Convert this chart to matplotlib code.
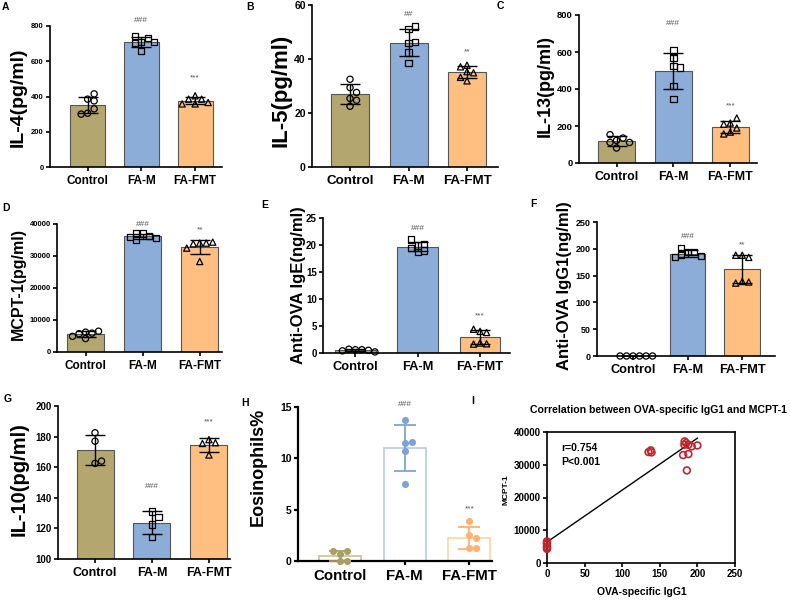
import numpy as np
import matplotlib
matplotlib.use("Agg")
import matplotlib.pyplot as plt

plt.rcParams['font.family'] = ['Liberation Sans', 'DejaVu Sans']

W, H = 790, 601

groups = ['Control', 'FA-M', 'FA-FMT']

# values (one list per group)
il4 = [[305, 385, 415, 330, 375, 300],
       [711, 730, 660, 743, 702, 711],
       [358, 385, 385, 404, 366, 358]]
il5 = [[25.4, 27.6, 22.5, 32.5, 29.4, 24.7],
       [46.0, 51.0, 46.4, 38.6, 52.0, 42.4],
       [35.3, 34.9, 37.1, 37.7, 33.2, 31.9]]
il13 = [[122, 135, 111, 153, 111, 81],
        [525, 608, 567, 417, 345, 516],
        [216, 243, 210, 189, 167, 157]]
mcpt1 = [[6200, 5900, 5700, 6500, 4900, 4200],
         [37000, 36300, 37200, 35700, 35900, 35100],
         [34030, 34030, 33820, 34340, 32460, 28270]]
ige = [[0.6, 0.6, 0.7, 0.5, 0.4, 0.2],
       [19.9, 20.2, 21.0, 19.4, 19.0, 18.7],
       [4.0, 3.8, 4.4, 1.85, 1.7, 1.65]]
igg1 = [[0, 0, 0, 0, 0, 0],
        [194, 194, 201, 188, 186, 184],
        [188, 184, 188, 139, 138, 136]]
il10 = [[182.5, 177, 162.5, 164],
        [131, 127.6, 122.6, 114.2],
        [178, 176, 175.5, 168]]
eos = [[0.72, 0.95, 0.95, 0.0, 0.0],
       [13.7, 11.5, 11.6, 10.75, 7.5],
       [3.9, 2.55, 2.25, 1.3, 1.3]]

# correlation panel
corr_igg1 = [0, 0, 0, 0, 0, 0,
             135, 138, 139, 183, 185, 182.7, 188, 192.4, 200, 181, 188, 186]
corr_mcpt1 = [6600, 6200, 5800, 5100, 4700, 4300,
              33870, 34380, 33770, 37130, 36620, 36110, 36110, 35600, 35900,
              32960, 33260, 28270]
fit_intercept = 6400
fit_slope = 158.6
r_value = 0.754

bar_colors = ['#b3a66e', '#8badd8', '#ffbf80']
markers = ['o', 's', '^']
# panel H style
h_edge = ['#cfc597', '#bcd0ea', '#ffd7ae']
h_pts = ['#ab9e62', '#7fa2d4', '#ffb271']

fig = plt.figure(figsize=(W / 100, H / 100), dpi=100)


def px_axes(x0, y0, x1, y1):
    return fig.add_axes([x0 / W, 1 - y1 / H, (x1 - x0) / W, (y1 - y0) / H])


def ftext(x, y, s, **kw):
    fig.text(x / W, 1 - y / H, s, **kw)


def swarm(vals, ypp, xpp, d=6.5):
    # simple beeswarm offsets (px -> data units)
    placed = []
    offs = []
    for v in vals:
        y = v * ypp
        for k in [0, 1, -1, 2, -2, 3, -3, 4, -4]:
            x = k * d
            if all((x - px) ** 2 + (y - py) ** 2 >= (d * 0.95) ** 2 for px, py in placed):
                break
        placed.append((x, y))
        offs.append(x / xpp)
    return np.array(offs)


def bar_panel(box, xlim, data, ylim, yticks, ylab, ylab_xy, ylab_fs,
              tick_fs, xt_fs, annots, letter, letter_xy, hollow=False):
    ax = px_axes(*box)
    base = ylim[0]
    means = np.array([np.mean(v) for v in data])
    sds = np.array([np.std(v, ddof=1) for v in data])
    xs = np.arange(len(data))
    ax.set_xlim(*xlim)
    ax.set_ylim(*ylim)
    xpp = (box[2] - box[0]) / (xlim[1] - xlim[0])
    ypp = (box[3] - box[1]) / (ylim[1] - ylim[0])
    if hollow:
        ax.bar(xs, means - base, bottom=base, width=0.65, color='white',
               edgecolor=h_edge, linewidth=1.3, zorder=1)
        for i in xs:
            ax.errorbar(i, means[i], yerr=sds[i], fmt='none', ecolor=h_pts[i],
                        elinewidth=1.3, capsize=8, capthick=1.3, zorder=3)
            off = swarm(data[i], ypp, xpp, d=7)
            ax.scatter(i + off, data[i], s=26, color=h_pts[i], zorder=4,
                       clip_on=False, linewidths=0)
        lw = 1.6
    else:
        ax.bar(xs, means - base, bottom=base, width=0.65, color=bar_colors,
               edgecolor='#555555', linewidth=0.8, zorder=1)
        ax.errorbar(xs, means, yerr=sds, fmt='none', ecolor='black',
                    elinewidth=1.0, capsize=7, capthick=1.0, zorder=3)
        for i in xs:
            off = swarm(data[i], ypp, xpp)
            ax.scatter(i + off, data[i], s=20, marker=markers[i],
                       facecolors='none', edgecolors='black', linewidths=0.9,
                       zorder=4, clip_on=False)
        lw = 1.2
    for s in ['top', 'right']:
        ax.spines[s].set_visible(False)
    for s in ['left', 'bottom']:
        ax.spines[s].set_linewidth(lw)
    ax.set_yticks(yticks)
    ax.set_xticks(xs)
    ax.set_xticklabels(groups, fontsize=xt_fs, fontweight='bold')
    ax.tick_params(axis='y', labelsize=tick_fs, length=3, width=lw, pad=1.5)
    ax.tick_params(axis='x', length=3, width=lw, pad=3)
    for t in ax.get_yticklabels():
        t.set_fontweight('bold')
    for i, s, y in annots:
        ax.text(i, y, s, ha='center', va='center', fontsize=6, color='#555555')
    ftext(*ylab_xy, ylab, rotation=90, ha='center', va='center',
          fontsize=ylab_fs, fontweight='bold')
    ftext(*letter_xy, letter, ha='center', va='center', fontsize=7.5,
          fontweight='bold')
    return ax


bar_panel((50, 26, 222, 167), (-0.7, 2.5), il4, (0, 800), range(0, 801, 200),
          'IL-4(pg/ml)', (18, 97), 14, 5.5, 8.5,
          [(1, '###', 834), (2, '***', 504)], 'A', (5, 7))
bar_panel((312, 5, 498, 167), (-0.65, 2.53), il5, (0, 60), range(0, 61, 20),
          'IL-5(pg/ml)', (281, 90), 16, 7.5, 9.6,
          [(1, '##', 56.3), (2, '**', 42.7)], 'B', (250, 7))
bar_panel((579, 15, 757, 163), (-0.66, 2.47), il13, (0, 800), range(0, 801, 200),
          'IL-13(pg/ml)', (545, 86), 13, 6.8, 8.9,
          [(1, '###', 752), (2, '***', 306)], 'C', (500, 6))
bar_panel((57, 224, 222, 352), (-0.5, 2.39), mcpt1, (0, 40000),
          range(0, 40001, 10000), 'MCPT-1(pg/ml)', (18, 284), 11.5, 5.5, 8.5,
          [(1, '###', 40000), (2, '**', 38220)], 'D', (6, 208))
bar_panel((323, 218, 510, 353), (-0.52, 2.48), ige, (0, 25), range(0, 26, 5),
          'Anti-OVA IgE(ng/ml)', (298, 285), 12, 7, 9.3,
          [(1, '###', 23.1), (2, '***', 6.8)], 'E', (265, 205))
bar_panel((597, 222, 775, 356), (-0.66, 2.6), igg1, (0, 250), range(0, 251, 50),
          'Anti-OVA IgG1(ng/ml)', (564, 286), 12, 6.5, 9.2,
          [(1, '###', 223), (2, '**', 208)], 'F', (533, 204))
bar_panel((58, 406, 230, 559), (-0.65, 2.37), il10, (100, 200),
          range(100, 201, 20), 'IL-10(pg/ml)', (19, 479), 14.5, 7, 9,
          [(1, '###', 147.4), (2, '***', 189.3)], 'G', (8, 399))
bar_panel((298, 407, 492, 561), (-0.65, 2.35), eos, (0, 15), range(0, 16, 5),
          'Eosinophils%', (258, 467), 13, 7.5, 10.8,
          [(1, '###', 15.2), (2, '***', 5.03)], 'H', (245, 403), hollow=True)

# I: correlation
ax = px_axes(547, 432, 735, 563)
ax.scatter(corr_igg1, corr_mcpt1, s=24, facecolors='none', edgecolors='#c0262c',
           linewidths=1.2, zorder=3, clip_on=False)
xf = np.array([0, max(corr_igg1)])
ax.plot(xf, fit_intercept + fit_slope * xf, color='black', lw=1.0, zorder=2)
ax.set_xlim(0, 250)
ax.set_ylim(0, 40000)
ax.set_xticks(range(0, 251, 50))
ax.set_yticks(range(0, 40001, 10000))
for s in ax.spines.values():
    s.set_linewidth(1.2)
ax.tick_params(labelsize=7, length=3, width=1.2, pad=1.5)
for t in ax.get_xticklabels() + ax.get_yticklabels():
    t.set_fontweight('bold')
ax.text(0.075, 0.88, 'r=%.3f' % r_value, transform=ax.transAxes, fontsize=7.5,
        fontweight='bold', va='center')
ax.text(0.075, 0.77, 'P<0.001', transform=ax.transAxes, fontsize=7.5,
        fontweight='bold', va='center')
ftext(642, 592, 'OVA-specific IgG1', ha='center', va='center', fontsize=7.5,
      fontweight='bold')
ftext(506, 490, 'MCPT-1', rotation=90, ha='center', va='center', fontsize=6,
      fontweight='bold')
ftext(658, 410, 'Correlation between OVA-specific IgG1 and MCPT-1', ha='center',
      va='center', fontsize=7.6, fontweight='bold')
ftext(473, 401, 'I', ha='center', va='center', fontsize=7.5, fontweight='bold')

fig.savefig('out.png', dpi=100)
